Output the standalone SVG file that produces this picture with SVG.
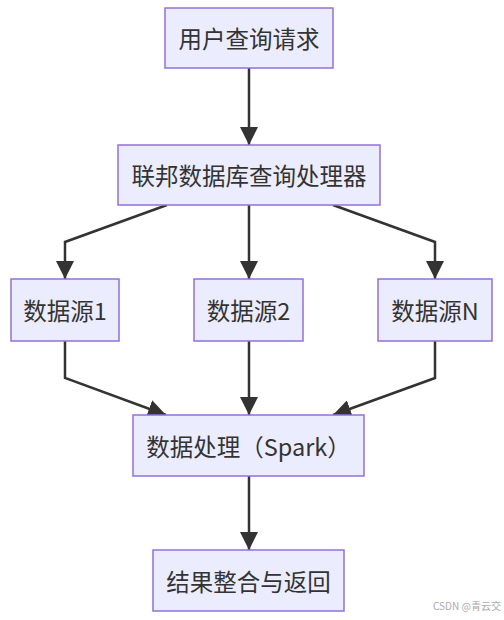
<svg xmlns="http://www.w3.org/2000/svg" width="504" height="620" viewBox="0 0 504 620">
<style>
.node rect{fill:#ECECFF;stroke:#9370DB;stroke-width:1.5}
.node text{font-family:"Noto Sans CJK SC","Liberation Sans",sans-serif;font-size:23.5px;fill:#333;text-anchor:middle;dominant-baseline:central}
.edge{fill:none;stroke:#333;stroke-width:2.5}
.wm{font-family:"Noto Sans CJK SC","Liberation Sans",sans-serif;font-size:10px;fill:#aaa}
</style>
<defs>
<marker id="ah" viewBox="0 0 18 18" refX="18" refY="9" markerWidth="18" markerHeight="18" markerUnits="userSpaceOnUse" orient="auto">
<path d="M0,0L18,9L0,18z" fill="#333"/>
</marker>
</defs>
<rect width="504" height="620" fill="#fff"/>
<g id="connectors">
<path class="edge" d="M249,68V145" marker-end="url(#ah)"/>
<path class="edge" d="M167,205L65,242V279" marker-end="url(#ah)"/>
<path class="edge" d="M249,205V279" marker-end="url(#ah)"/>
<path class="edge" d="M333,205L435,242V279" marker-end="url(#ah)"/>
<path class="edge" d="M65,341V378L166,415" marker-end="url(#ah)"/>
<path class="edge" d="M249,341V415" marker-end="url(#ah)"/>
<path class="edge" d="M435,341V378L333,415" marker-end="url(#ah)"/>
<path class="edge" d="M249,476V550" marker-end="url(#ah)"/>
</g>
<g id="n1" class="node"><rect x="165" y="8" width="168" height="60"/><text x="249" y="38">用户查询请求</text></g>
<g id="n2" class="node"><rect x="118" y="145" width="262" height="60"/><text x="249" y="175">联邦数据库查询处理器</text></g>
<g id="ds1" class="node"><rect x="11" y="279" width="108" height="62"/><text x="65" y="310">数据源1</text></g>
<g id="ds2" class="node"><rect x="194" y="279" width="109" height="62"/><text x="248.5" y="310">数据源2</text></g>
<g id="dsn" class="node"><rect x="378" y="279" width="114" height="62"/><text x="435" y="310">数据源N</text></g>
<g id="spark" class="node"><rect x="133" y="415" width="231" height="61"/><text x="248.5" y="445.5">数据处理（Spark）</text></g>
<g id="result" class="node"><rect x="153" y="550" width="191" height="61"/><text x="248.5" y="580.5">结果整合与返回</text></g>
<text class="wm" x="433" y="610">CSDN @青云交</text>
</svg>
